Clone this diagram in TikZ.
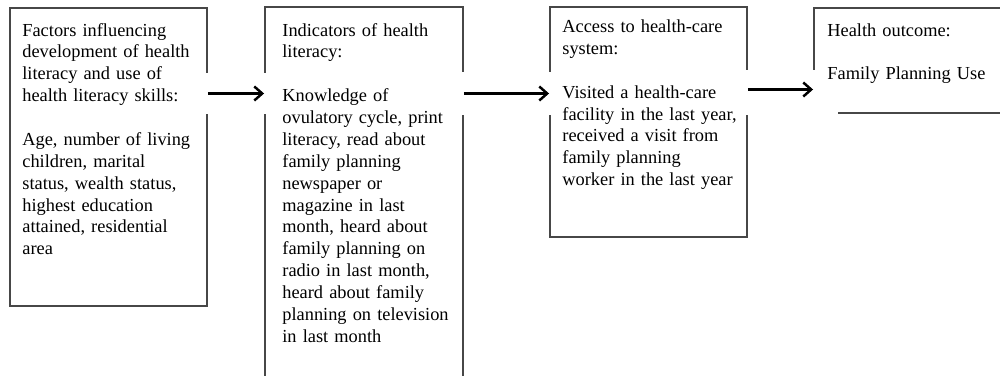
\documentclass[tikz,border=0pt]{standalone}
\usepackage{fontspec}
\setmainfont{Liberation Serif}
\usetikzlibrary{positioning, arrows.meta, shadows}

\tikzset{
  frame/.style={draw=black!72, line width=1.1pt, fill=white, inner sep=0pt,
    drop shadow={shadow xshift=0.5pt, shadow yshift=-0.7pt, opacity=0.3}},
  patch/.style={fill=white, inner sep=0pt},
  txt/.style={text width=3.6cm, align=left, inner sep=0pt, anchor=base west,
    font=\fontsize{10.45pt}{12.45pt}\selectfont},
  flow/.style={line width=1.4pt, -{Straight Barb[length=4.5pt,width=8pt]}}
}

\begin{document}
\begin{tikzpicture}
    \useasboundingbox (0,0) rectangle (20,7.5);
    \clip (0,0) rectangle (20,7.5);

    % frames
    \node[frame, minimum width=3.94cm, minimum height=5.96cm] (factors)    at (2.17,4.36) {};
    \node[frame, minimum width=3.96cm, minimum height=7.56cm] (indicators) at (7.28,3.58) {};
    \node[frame, minimum width=3.94cm, minimum height=4.6cm]  (access)     at (12.97,5.06) {};
    \node[frame, minimum width=3.96cm, minimum height=2.1cm]  (outcome)    at (18.26,6.29) {};

    % white strips behind the arrows
    \node[patch, minimum width=1.6cm,  minimum height=0.82cm] (p1) at (4.86,5.63) {};
    \node[patch, minimum width=2.2cm,  minimum height=0.86cm] (p2) at (10.22,5.63) {};
    \node[patch, minimum width=1.96cm, minimum height=0.9cm]  (p3) at (15.78,5.65) {};

    % texts
    \node[txt] (factors-txt) at ([xshift=0.26cm, yshift=-0.58cm]factors.north west)
        {Factors influencing\\ development of health\\ literacy and use of\\ health literacy skills:\\[12.45pt]
         Age, number of living\\ children, marital\\ status, wealth status,\\ highest education\\
         attained, residential\\ area};
    \node[txt] (indicators-txt) at ([xshift=0.36cm, yshift=-0.6cm]indicators.north west)
        {Indicators of health\\ literacy:\\[12.45pt]
         Knowledge of\\ ovulatory cycle, print\\ literacy, read about\\ family planning\\
         newspaper or\\ magazine in last\\ month, heard about\\ family planning on\\
         radio in last month,\\ heard about family\\ planning on television\\ in last month};
    \node[txt] (access-txt) at ([xshift=0.26cm, yshift=-0.53cm]access.north west)
        {Access to health-care\\ system:\\[12.45pt]
         Visited a health-care\\ facility in the last year,\\ received a visit from\\
         family planning\\ worker in the last year};
    \node[txt] (outcome-txt) at ([xshift=0.28cm, yshift=-0.58cm]outcome.north west)
        {Health outcome:\\[12.45pt] Family Planning Use};

    % arrows
    \draw[flow] (factors.east |- p1.center) -- (indicators.west |- p1.center);
    \draw[flow] (indicators.east |- p2.center) -- (access.west |- p2.center);
    \draw[flow] ([yshift=0.06cm]access.east |- p3.center) -- ([yshift=0.06cm]outcome.west |- p3.center);
\end{tikzpicture}
\end{document}
